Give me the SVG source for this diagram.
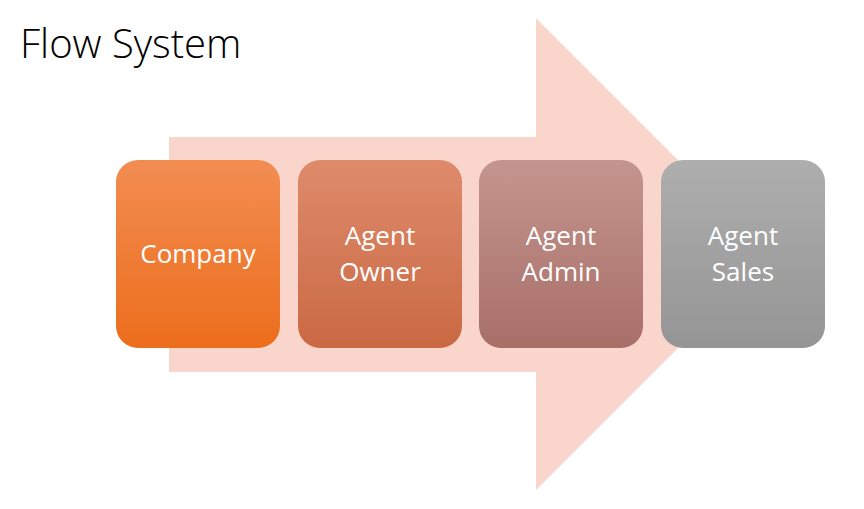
<svg xmlns="http://www.w3.org/2000/svg" width="864" height="509" viewBox="0 0 864 509">
<defs>
<style>
.t{font-family:"Open Sans","Noto Sans",sans-serif;font-size:26px;fill:#fff;text-anchor:middle}
</style>
<linearGradient id="g1" x1="0" y1="0" x2="0" y2="1"><stop offset="0" stop-color="#f28d52"/><stop offset="1" stop-color="#ec6d1b"/></linearGradient>
<linearGradient id="g2" x1="0" y1="0" x2="0" y2="1"><stop offset="0" stop-color="#de8b6c"/><stop offset="1" stop-color="#ca6943"/></linearGradient>
<linearGradient id="g3" x1="0" y1="0" x2="0" y2="1"><stop offset="0" stop-color="#c4958e"/><stop offset="1" stop-color="#a86f69"/></linearGradient>
<linearGradient id="g4" x1="0" y1="0" x2="0" y2="1"><stop offset="0" stop-color="#aeaeae"/><stop offset="1" stop-color="#959595"/></linearGradient>
</defs>
<rect width="864" height="509" fill="#fff"/>
<text x="20" y="58" font-family="Open Sans, Noto Sans, sans-serif" font-size="40" font-weight="300" fill="#000">Flow System</text>
<g id="connectors">
<polygon points="169,137 536,137 536,18 772,254 536,490 536,372 169,372" fill="#f9d5cb"/>
</g>
<g id="company"><rect x="116" y="160" width="164" height="188" rx="22" fill="url(#g1)"/><text class="t" x="198" y="263">Company</text></g>
<g id="owner"><rect x="298" y="160" width="164" height="188" rx="22" fill="url(#g2)"/><text class="t" x="380" y="245">Agent</text><text class="t" x="380" y="281">Owner</text></g>
<g id="admin"><rect x="479" y="160" width="164" height="188" rx="22" fill="url(#g3)"/><text class="t" x="561" y="245">Agent</text><text class="t" x="561" y="281">Admin</text></g>
<g id="sales"><rect x="661" y="160" width="164" height="188" rx="22" fill="url(#g4)"/><text class="t" x="743" y="245">Agent</text><text class="t" x="743" y="281">Sales</text></g>
</svg>
